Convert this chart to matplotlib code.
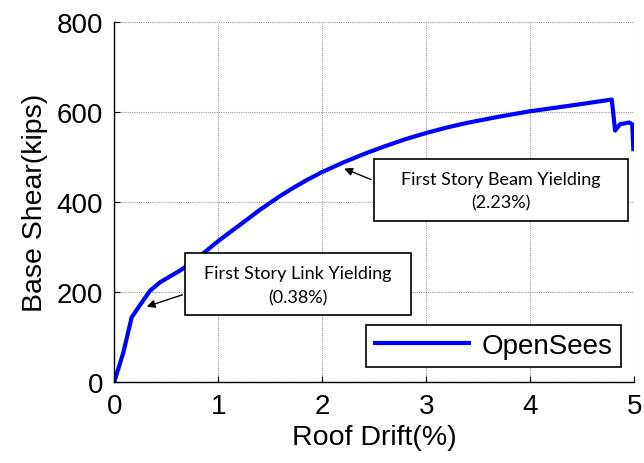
import matplotlib
matplotlib.use("Agg")
import matplotlib.pyplot as plt
from matplotlib.patches import Rectangle

drift = [0.0, 0.087, 0.167, 0.231, 0.343, 0.44, 0.632, 0.792, 0.985, 1.10, 1.24, 1.40, 1.577,
         1.70, 1.85, 2.00, 2.20, 2.40, 2.587, 2.80, 3.004, 3.20, 3.388, 3.70, 4.00, 4.40,
         4.783, 4.815, 4.862, 4.95, 4.98, 4.99]
shear = [0, 65, 143, 165, 202, 221, 247, 273, 310, 330, 354, 382, 410,
         428, 448, 466, 487, 506, 522, 539, 553, 565, 575, 589, 601, 614,
         627, 558, 572, 576, 572, 517]

ann_text = ["First Story Link Yielding\n(0.38%)", "First Story Beam Yielding\n(2.23%)"]
ann_point = [(0.286, 165), (2.186, 476)]

plt.rcParams['font.family'] = ['Liberation Sans', 'DejaVu Sans']

fig = plt.figure(figsize=(6.44, 4.64), dpi=100)
ax = fig.add_axes([0.1775, 0.1752, 0.8075, 0.7759])
ax.plot(drift, shear, color=(0, 0, 1), lw=3.0, label='OpenSees', solid_joinstyle='round')
ax.set_xlim(0, 5)
ax.set_ylim(0, 800)
ax.set_xticks([0, 1, 2, 3, 4, 5])
ax.set_yticks([0, 200, 400, 600, 800])
ax.grid(True, color='#999999', linestyle=(0, (1, 1)), linewidth=0.8)
for s in ['top', 'right']:
    ax.spines[s].set_visible(False)
for s in ['left', 'bottom']:
    ax.spines[s].set_linewidth(1.0)
ax.tick_params(direction='in', labelsize=20, length=4, pad=8)
ax.set_xlabel('Roof Drift(%)', fontsize=20.5, labelpad=4)
ax.set_ylabel('Base Shear(kips)', fontsize=20.5, labelpad=6)

boxes = [((0.680, 148.2), 2.170, 137.8, (1.765, 214), (0.680, 195)),
         ((2.494, 357.8), 2.442, 137.1, (3.715, 424), (2.494, 446.7))]
for txt, pt, (xy, w, h, tc, tail) in zip(ann_text, ann_point, boxes):
    ax.add_patch(Rectangle(xy, w, h, facecolor='white', edgecolor='black', lw=1.2, zorder=5))
    ax.text(tc[0], tc[1], txt, ha='center', va='center', fontsize=13, family=['Lato', 'DejaVu Sans'],
            linespacing=1.6, zorder=6)
    ax.annotate('', xy=pt, xytext=tail,
                arrowprops=dict(arrowstyle='-|>', color='black', lw=1.0, mutation_scale=12),
                zorder=6)

leg = ax.legend(loc='lower right', bbox_to_anchor=(0.9737, 0.04), fontsize=20, fancybox=False,
                edgecolor='black', framealpha=1, handlelength=3.4, borderpad=0.3,
                handletextpad=0.45, borderaxespad=0)
leg.get_frame().set_linewidth(1.2)
leg.set_zorder(7)

fig.savefig('out.png', dpi=100)
